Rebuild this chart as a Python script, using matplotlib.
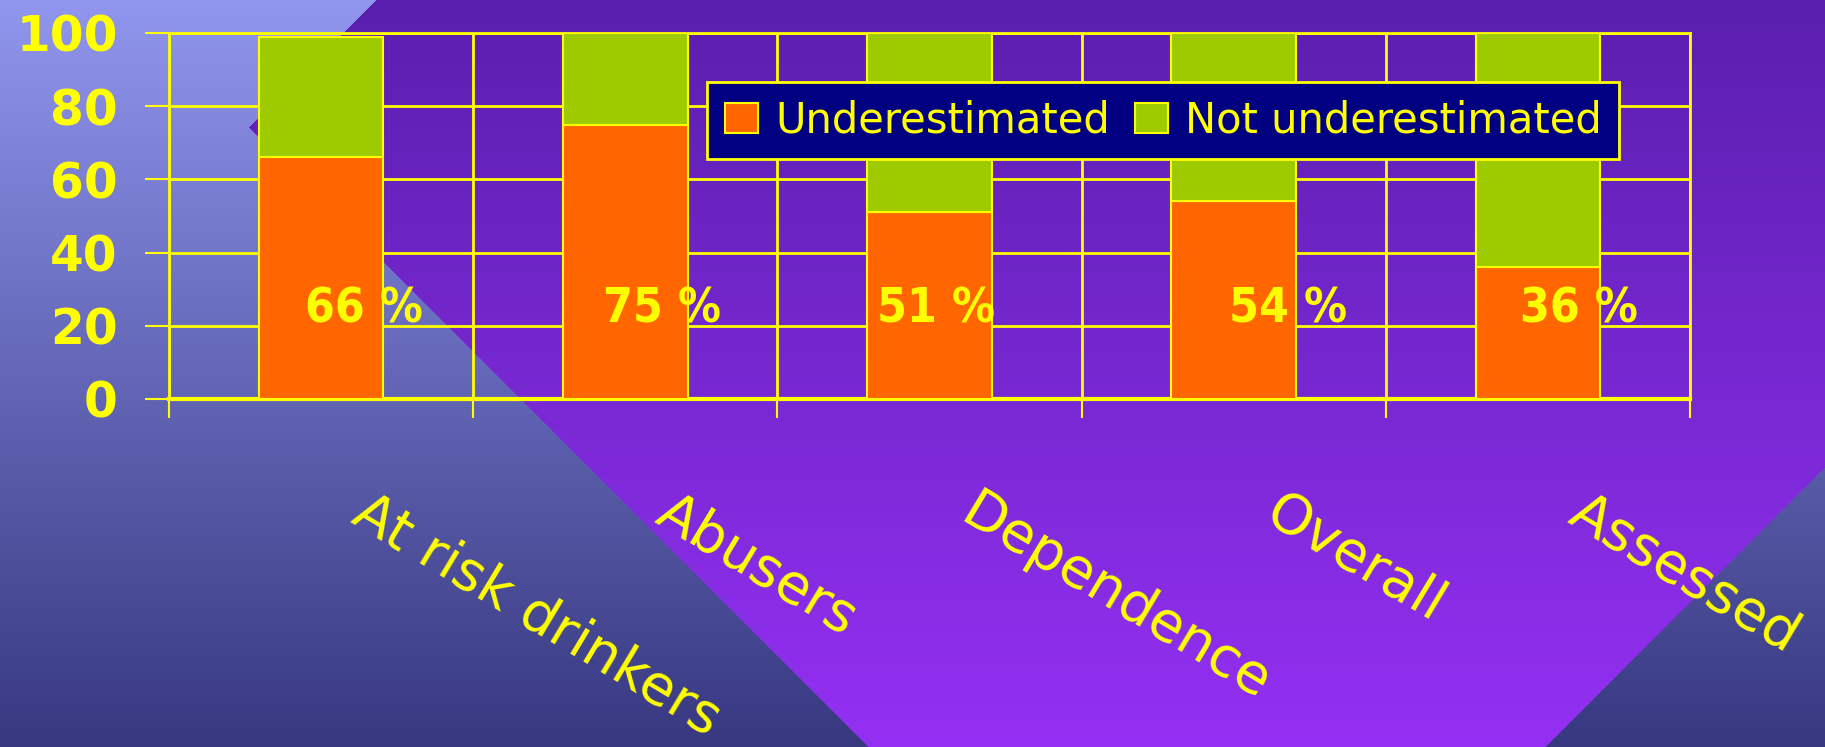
import os
import numpy as np
import matplotlib
matplotlib.use("Agg")
import matplotlib.pyplot as plt
from matplotlib import font_manager
from matplotlib.font_manager import FontProperties
from matplotlib.transforms import ScaledTranslation

categories = ["At risk drinkers", "Abusers", "Dependence", "Overall", "Assessed"]
underestimated = [66, 75, 51, 54, 36]
not_underestimated = [33, 25, 49, 46, 64]
pct_labels = ["66 %", "75 %", "51 %", "54 %", "36 %"]
y_ticks = [0, 20, 40, 60, 80, 100]

# horizontal nudges of the % labels (as on the slide)
label_dx = [0.14, 0.12, 0.02, 0.18, 0.135]
LABEL_Y = 21

W, H = 1825, 747
YELLOW = "#ffff00"
ORANGE = "#ff6600"
GREEN = "#9ecb00"


def condensed_bold():
    # look for a narrow bold face for the % labels, else plain bold
    prefs = ["liberationsansnarrow-bold.", "dejavusanscondensed-bold.",
             "notosans-condensedbold.", "roboto_condensed-bold",
             "robotocondensed-bold.", "opensans-condensedbold."]
    files = [f.fname for f in font_manager.fontManager.ttflist]
    for p in prefs:
        for fn in files:
            if os.path.basename(fn).lower().startswith(p):
                return FontProperties(fname=fn)
    for f in font_manager.fontManager.ttflist:
        n = (f.name + os.path.basename(f.fname)).lower()
        w = f.weight if isinstance(f.weight, int) else 400
        if ("narrow" in n or "condensed" in n) and "extra" not in n \
                and "italic" not in n and (w >= 700 or "bold" in n):
            return FontProperties(fname=f.fname)
    return FontProperties(family="DejaVu Sans", weight="bold")


# background: blue gradient with a large purple diamond
yy, xx = np.mgrid[0:H, 0:W].astype(float)
t = (yy / (H - 1))[..., None]
blue_top = np.array([0x91, 0x96, 0xee]) / 255
blue_bot = np.array([0x37, 0x38, 0x80]) / 255
purp_top = np.array([0x5a, 0x1f, 0xae]) / 255
purp_bot = np.array([0x94, 0x30, 0xf3]) / 255
blue = blue_top + (blue_bot - blue_top) * t
purple = purp_top + (purp_bot - purp_top) * t
inside = (xx + yy >= 376) & (xx - yy >= 122) & (xx + yy <= 2291)
img = np.where(inside[..., None], purple, blue)

fig = plt.figure(figsize=(W / 100, H / 100), dpi=100)
bg = fig.add_axes([0, 0, 1, 1], zorder=-1)
bg.imshow(img, aspect="auto", interpolation="bilinear")
bg.axis("off")

ax = fig.add_axes([169 / W, 1 - 399 / H, (1690 - 169) / W, (399 - 33) / H])
ax.set_facecolor("none")

x = np.arange(len(categories))
ax.bar(x, underestimated, width=0.41, color=ORANGE, edgecolor=YELLOW,
       linewidth=1.5, label="Underestimated", zorder=3)
ax.bar(x, not_underestimated, width=0.41, bottom=underestimated, color=GREEN,
       edgecolor=YELLOW, linewidth=1.5, label="Not underestimated", zorder=3)

fp = condensed_bold()
fp.set_size(36)
pct_texts = []
for i, txt in enumerate(pct_labels):
    pct_texts.append(ax.text(x[i] + label_dx[i], LABEL_Y, txt, ha="center",
                             va="baseline", color=YELLOW, fontproperties=fp,
                             zorder=4))

ax.set_xlim(-0.5, len(categories) - 0.5)
ax.set_ylim(0, 100)
ax.set_yticks(y_ticks)
ax.set_xticks(np.arange(-0.5, len(categories), 1), minor=True)
ax.set_xticks(x, categories, rotation=-31, ha="left", va="top",
              rotation_mode="anchor")

ax.grid(True, axis="y", which="major", color=YELLOW, linewidth=2)
ax.grid(True, axis="x", which="minor", color=YELLOW, linewidth=2)
ax.set_axisbelow(True)

ax.tick_params(axis="y", length=17, width=1.5, color=YELLOW, pad=20,
               labelsize=35, labelcolor=YELLOW)
ax.tick_params(axis="x", which="major", length=0, pad=62,
               labelsize=40, labelcolor=YELLOW)
ax.tick_params(axis="x", which="minor", length=14, width=1.5, color=YELLOW)
for lbl in ax.get_yticklabels():
    lbl.set_fontweight("bold")
shift = ScaledTranslation(0.5, 0, fig.dpi_scale_trans)
for lbl in ax.get_xticklabels():
    lbl.set_transform(lbl.get_transform() + shift)

for side, sp in ax.spines.items():
    sp.set_color(YELLOW)
    sp.set_linewidth(2)
ax.spines["bottom"].set_linewidth(3)

leg = ax.legend(loc="upper left", bbox_to_anchor=(0.354, 0.866), ncol=2,
                fontsize=30, frameon=True, fancybox=False,
                facecolor="#000080", edgecolor=YELLOW, framealpha=1,
                handlelength=0.8, handleheight=0.7, handletextpad=0.4,
                columnspacing=0.6, borderpad=0.42, borderaxespad=0,
                labelcolor=YELLOW)
leg.get_frame().set_linewidth(2)
leg.set_zorder(5)

# size the % labels so "66 %" is about as wide as on the slide
fig.canvas.draw()
w0 = pct_texts[0].get_window_extent().width
new_size = float(np.clip(36 * 118 / w0, 28, 44))
for tx in pct_texts:
    tx.set_fontsize(new_size)

fig.savefig("out.png", dpi=100)
